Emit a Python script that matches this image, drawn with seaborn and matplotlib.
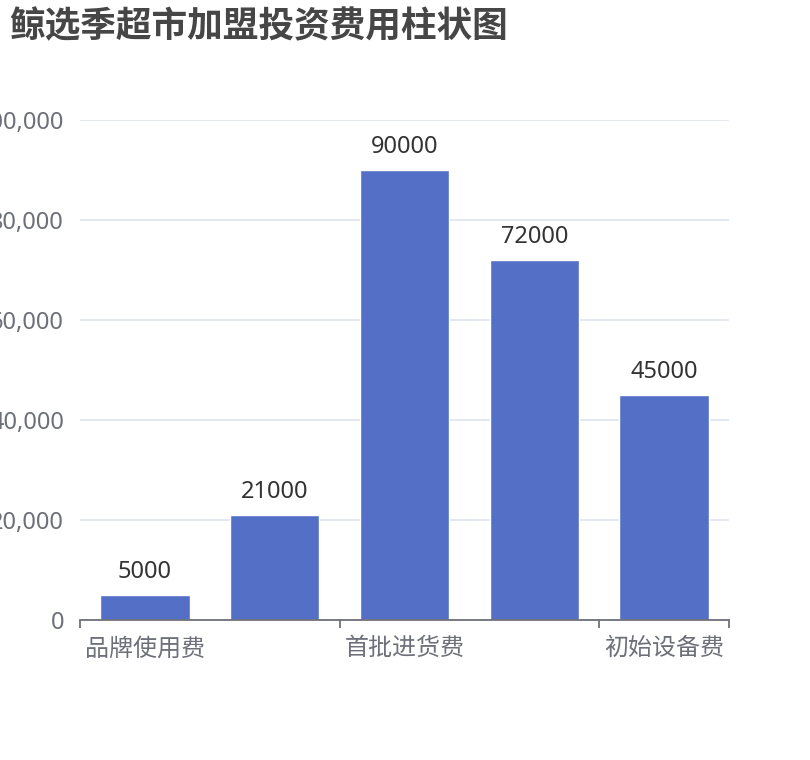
import matplotlib
matplotlib.use("Agg")
import matplotlib.pyplot as plt
import seaborn as sns
from matplotlib.ticker import FuncFormatter, FixedLocator

categories = ["品牌使用费", "店面装修费", "首批进货费", "人员培训费", "初始设备费"]
values = [5000, 21000, 90000, 72000, 45000]
shown_labels = ["品牌使用费", "", "首批进货费", "", "初始设备费"]
title = "鲸选季超市加盟投资费用柱状图"
y_ticks = [0, 20000, 40000, 60000, 80000, 100000]

sns.set_theme(style="white")
plt.rcParams['font.family'] = ['Noto Sans CJK SC', 'DejaVu Sans']
num_family = ['Noto Sans', 'Noto Sans CJK SC', 'DejaVu Sans']

W, H = 810, 760
fig = plt.figure(figsize=(W / 100, H / 100), dpi=100)
ax = fig.add_axes([80 / W, 1 - 620 / H, (729 - 80) / W, (620 - 120) / H])

bar_color = "#5470C6"
sns.barplot(x=categories, y=values, color=bar_color, saturation=1, width=0.69, ax=ax)

ax.set_ylim(0, 100000)
ax.set_xlim(-0.5, len(categories) - 0.5)
ax.set_yticks(y_ticks)
ax.yaxis.set_major_formatter(FuncFormatter(lambda v, p: f"{int(v):,}"))
ax.grid(axis="y", color="#E0E6F1", linewidth=1.3)
ax.set_axisbelow(True)
for s in ["top", "right", "left"]:
    ax.spines[s].set_visible(False)
ax.spines["bottom"].set_color("#6E7079")
ax.spines["bottom"].set_linewidth(1.3)

ax.set_xticks(range(len(categories)))
ax.set_xticklabels(shown_labels)
ax.tick_params(axis="x", which="major", length=0, pad=11, labelsize=17.3, labelcolor="#6E7079")
ax.xaxis.set_minor_locator(FixedLocator([-0.5, 1.5, 3.5, 4.5]))
ax.tick_params(axis="x", which="minor", length=6, width=1.3, color="#6E7079", bottom=True)
ax.tick_params(axis="y", length=0, pad=11.5, labelsize=17, labelcolor="#6E7079")
for lab in ax.get_yticklabels():
    lab.set_family(num_family)
ax.set_xlabel("")
ax.set_ylabel("")

for i, v in enumerate(values):
    ax.annotate(f"{v}", xy=(i, v), xytext=(0, 8), textcoords="offset points",
                ha="center", va="bottom", fontsize=17, color="#333333", family=num_family)

fig.text(9 / W, 1 - 27 / H, title, fontsize=25.7, fontweight="bold", color="#464646",
         ha="left", va="center")

fig.savefig("out.png", dpi=100)
